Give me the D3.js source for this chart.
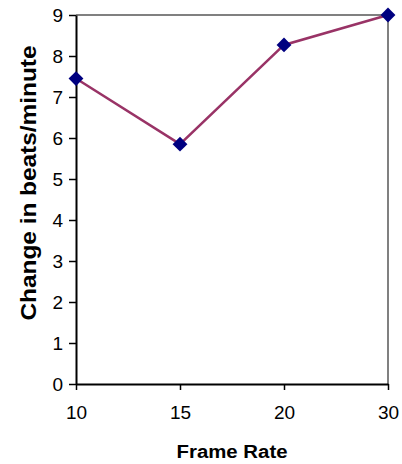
<!DOCTYPE html>
<html><head><meta charset="utf-8">
<script src="https://cdn.jsdelivr.net/npm/d3@7"></script>
<style>body{margin:0;background:#fff}</style>
</head><body><svg id="c" width="402" height="464"></svg>
<script>
const categories = ["10","15","20","30"];
const values = [7.45, 5.85, 8.27, 9.0];
const yTicks = [0,1,2,3,4,5,6,7,8,9];
const xTitle = "Frame Rate";
const yTitle = "Change in beats/minute";

const svg = d3.select("#c");
const L=76, R=388, T=15, B=384;
const x = d3.scalePoint().domain(categories).range([L,R]);
const y = d3.scaleLinear().domain([0,9]).range([B,T]);
const font = "Arial, 'Liberation Sans', sans-serif";

// top & right border
svg.append("path").attr("d",`M${L},${T}H${R}V${B}`).attr("fill","none").attr("stroke","#808080").attr("stroke-width",2);

const ya = svg.append("g").attr("transform",`translate(${L},0)`).call(d3.axisLeft(y).tickValues(yTicks).tickSize(7).tickPadding(6).tickSizeOuter(0));
const xa = svg.append("g").attr("transform",`translate(0,${B})`).call(d3.axisBottom(x).tickSize(6).tickPadding(16).tickSizeOuter(0));
[ya,xa].forEach(g=>{
  g.select(".domain").attr("stroke","#000").attr("stroke-width",2);
  g.selectAll(".tick line").attr("stroke","#000").attr("stroke-width",1.5);
  g.selectAll(".tick text").attr("fill","#000").style("font-family",font).style("font-size","19px");
});
ya.selectAll(".tick text").attr("dy","0.36em");

const line = d3.line().x((d,i)=>x(categories[i])).y(d=>y(d));
svg.append("path").datum(values).attr("d",line).attr("fill","none").attr("stroke","#993366").attr("stroke-width",2.5);

svg.selectAll(".m").data(values).enter().append("path")
  .attr("d",d3.symbol().type(d3.symbolSquare).size(110))
  .attr("transform",(d,i)=>`translate(${x(categories[i])},${y(d)}) rotate(45)`)
  .attr("fill","#000080");

svg.append("text").attr("x",232).attr("y",458).attr("text-anchor","middle")
  .attr("textLength",111).attr("lengthAdjust","spacingAndGlyphs")
  .style("font-family",font).style("font-size","18px").style("font-weight","bold").text(xTitle);
svg.append("text").attr("transform",`translate(36,183) rotate(-90)`).attr("text-anchor","middle")
  .attr("textLength",275).attr("lengthAdjust","spacingAndGlyphs")
  .style("font-family",font).style("font-size","22px").style("font-weight","bold").text(yTitle);
</script></body></html>
